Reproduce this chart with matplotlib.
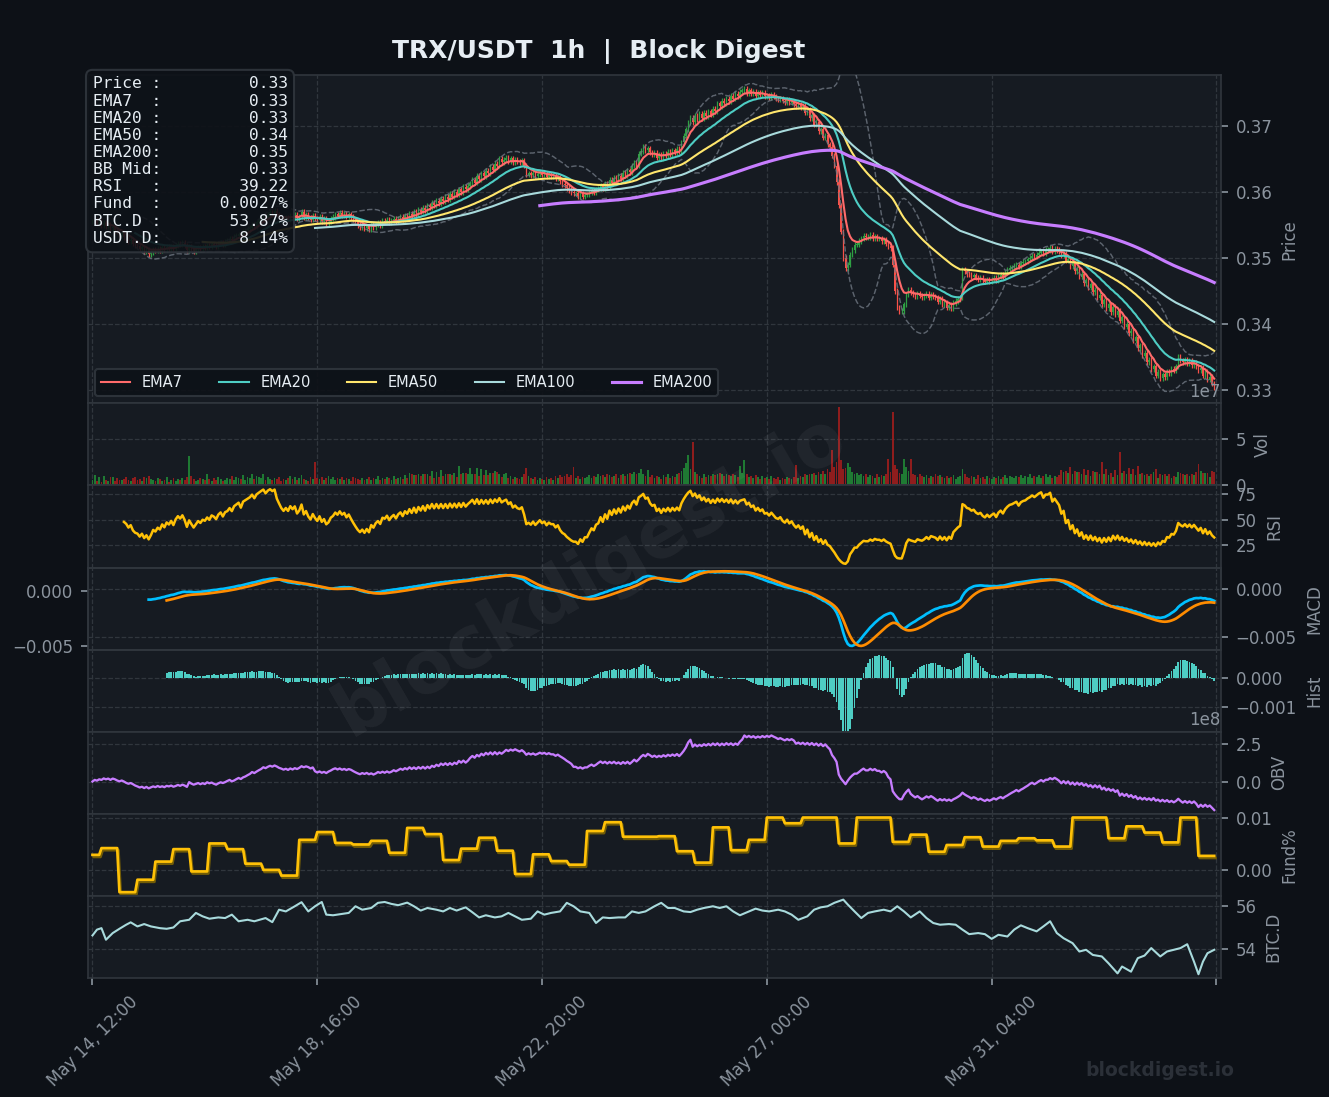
import numpy as np
import pandas as pd
import matplotlib
matplotlib.use('Agg')
import matplotlib.pyplot as plt
import matplotlib.ticker as mticker
import matplotlib.patheffects as pe

# ---- data ----
start_time = '2025-05-14 12:00'

# hourly closes, in units of 0.0001 USDT
close_e4 = [
    3555, 3558, 3552, 3556, 3550, 3553, 3548, 3551, 3545, 3547,
    3542, 3540, 3536, 3538, 3532, 3530, 3526, 3528, 3522, 3519,
    3518, 3514, 3516, 3510, 3512, 3506, 3509, 3513, 3511, 3514,
    3512, 3516, 3513, 3517, 3515, 3518, 3514, 3519, 3522, 3520,
    3523, 3519, 3512, 3518, 3514, 3510, 3513, 3516, 3514, 3517,
    3516, 3519, 3517, 3521, 3520, 3518, 3522, 3524, 3521, 3525,
    3526, 3529, 3527, 3532, 3534, 3536, 3533, 3540, 3542, 3544,
    3546, 3550, 3548, 3554, 3557, 3560, 3563, 3561, 3566, 3569,
    3568, 3571, 3566, 3563, 3560, 3558, 3561, 3559, 3564, 3562,
    3565, 3560, 3563, 3570, 3562, 3566, 3561, 3558, 3564, 3560,
    3557, 3562, 3556, 3559, 3553, 3555, 3560, 3562, 3566, 3564,
    3568, 3565, 3567, 3563, 3566, 3562, 3558, 3554, 3550, 3547,
    3549, 3545, 3548, 3544, 3550, 3547, 3551, 3553, 3550, 3556,
    3555, 3558, 3554, 3557, 3559, 3556, 3560, 3562, 3559, 3564,
    3562, 3567, 3564, 3570, 3566, 3573, 3570, 3576, 3572, 3580,
    3577, 3584, 3580, 3587, 3583, 3590, 3586, 3593, 3589, 3597,
    3593, 3600, 3596, 3604, 3600, 3608, 3604, 3609, 3613, 3618,
    3614, 3624, 3619, 3628, 3624, 3632, 3628, 3638, 3634, 3643,
    3640, 3650, 3645, 3649, 3652, 3647, 3651, 3645, 3649, 3646,
    3645, 3648, 3640, 3626, 3628, 3625, 3629, 3624, 3627, 3630,
    3626, 3628, 3623, 3626, 3624, 3624, 3620, 3622, 3616, 3612,
    3610, 3606, 3603, 3600, 3598, 3598, 3594, 3597, 3593, 3596,
    3596, 3599, 3602, 3600, 3604, 3605, 3610, 3606, 3613, 3609,
    3618, 3614, 3621, 3617, 3624, 3620, 3629, 3625, 3633, 3630,
    3640, 3645, 3641, 3658, 3662, 3668, 3663, 3666, 3660, 3657,
    3659, 3652, 3656, 3651, 3658, 3655, 3661, 3657, 3663, 3660,
    3665, 3662, 3675, 3685, 3695, 3705, 3712, 3706, 3715, 3710,
    3718, 3712, 3720, 3715, 3722, 3717, 3726, 3722, 3734, 3730,
    3738, 3734, 3741, 3737, 3746, 3741, 3749, 3745, 3752, 3754,
    3756, 3750, 3754, 3749, 3752, 3746, 3751, 3747, 3750, 3745,
    3746, 3743, 3747, 3744, 3741, 3740, 3742, 3738, 3736, 3739,
    3735, 3737, 3733, 3730, 3732, 3728, 3730, 3720, 3724, 3712,
    3716, 3702, 3706, 3692, 3695, 3682, 3686, 3672, 3668, 3655,
    3640, 3615, 3580, 3540, 3500, 3485, 3490, 3505, 3512, 3520,
    3520, 3526, 3530, 3534, 3532, 3532, 3535, 3530, 3533, 3530,
    3530, 3526, 3528, 3522, 3518, 3515, 3490, 3450, 3425, 3420,
    3420, 3430, 3445, 3452, 3448, 3445, 3442, 3446, 3443, 3441,
    3443, 3446, 3440, 3444, 3442, 3440, 3434, 3438, 3430, 3433,
    3425, 3429, 3424, 3432, 3435, 3438, 3440, 3482, 3480, 3476,
    3475, 3472, 3474, 3470, 3468, 3470, 3466, 3464, 3468, 3465,
    3468, 3470, 3466, 3472, 3475, 3472, 3478, 3482, 3485, 3486,
    3488, 3490, 3487, 3492, 3494, 3495, 3498, 3500, 3503, 3502,
    3505, 3508, 3510, 3507, 3512, 3512, 3515, 3510, 3514, 3512,
    3510, 3504, 3507, 3496, 3499, 3488, 3492, 3480, 3484, 3472,
    3476, 3462, 3466, 3455, 3460, 3448, 3452, 3440, 3444, 3430,
    3436, 3424, 3430, 3418, 3426, 3414, 3420, 3405, 3410, 3396,
    3400, 3386, 3390, 3375, 3380, 3364, 3368, 3352, 3357, 3342,
    3346, 3332, 3336, 3322, 3328, 3318, 3324, 3320, 3328, 3326,
    3332, 3330, 3336, 3350, 3345, 3342, 3346, 3340, 3344, 3338,
    3342, 3336, 3330, 3334, 3322, 3328, 3316, 3320, 3310, 3304,
]

# hourly volume, in millions of TRX
volume_m = [
    6, 11, 5, 9, 4, 10, 6, 5, 9, 9,
    5, 8, 6, 6, 7, 9, 6, 5, 8, 9,
    6, 7, 5, 9, 8, 10, 7, 6, 5, 8,
    7, 5, 6, 9, 4, 6, 8, 5, 7, 6,
    8, 6, 9, 32, 10, 7, 5, 6, 8, 7,
    6, 12, 7, 5, 8, 6, 9, 7, 5, 6,
    8, 7, 10, 6, 9, 8, 7, 11, 6, 9,
    8, 13, 7, 10, 9, 8, 12, 6, 9, 7,
    6, 8, 7, 9, 5, 7, 6, 8, 10, 7,
    9, 6, 8, 11, 7, 6, 5, 9, 7, 26,
    8, 7, 9, 6, 8, 10, 7, 9, 6, 8,
    7, 9, 6, 8, 7, 5, 9, 8, 7, 6,
    8, 6, 7, 9, 6, 8, 7, 10, 6, 8,
    7, 9, 8, 6, 10, 7, 8, 9, 7, 11,
    8, 14, 12, 11, 11, 13, 10, 12, 12, 13,
    10, 16, 8, 15, 9, 17, 10, 12, 12, 13,
    11, 14, 9, 21, 12, 14, 14, 13, 19, 13,
    12, 19, 10, 18, 11, 17, 11, 14, 14, 16,
    15, 13, 9, 12, 14, 8, 10, 7, 9, 8,
    7, 9, 12, 19, 10, 8, 7, 9, 6, 8,
    7, 6, 9, 7, 8, 6, 10, 8, 11, 9,
    10, 12, 9, 11, 20, 8, 10, 7, 9, 8,
    9, 11, 8, 10, 9, 12, 10, 11, 9, 12,
    11, 9, 10, 12, 8, 11, 13, 10, 12, 14,
    13, 15, 12, 14, 18, 12, 10, 17, 9, 11,
    8, 10, 9, 7, 11, 9, 12, 8, 10, 9,
    12, 14, 16, 19, 24, 33, 18, 47, 15, 12,
    10, 8, 12, 9, 11, 10, 13, 11, 12, 14,
    12, 10, 13, 11, 10, 12, 11, 9, 21, 14,
    28, 12, 9, 10, 8, 11, 9, 7, 10, 8,
    9, 7, 10, 8, 7, 9, 6, 8, 7, 9,
    8, 7, 9, 22, 8, 10, 9, 12, 11, 13,
    12, 14, 11, 15, 13, 16, 12, 18, 15, 39,
    20, 26, 85, 28, 18, 19, 24, 20, 15, 12,
    14, 11, 13, 10, 12, 9, 11, 10, 8, 12,
    9, 11, 10, 12, 29, 15, 80, 22, 18, 14,
    12, 29, 20, 16, 29, 13, 11, 9, 12, 10,
    9, 11, 8, 10, 9, 12, 10, 11, 9, 8,
    10, 8, 9, 11, 7, 9, 10, 18, 12, 9,
    8, 10, 9, 7, 11, 8, 9, 7, 10, 8,
    7, 9, 8, 10, 7, 9, 11, 8, 10, 9,
    8, 10, 9, 11, 8, 10, 9, 12, 8, 10,
    9, 11, 8, 10, 12, 9, 11, 8, 10, 9,
    11, 17, 15, 16, 14, 20, 13, 16, 15, 15,
    12, 18, 11, 17, 10, 16, 15, 15, 13, 26,
    12, 18, 11, 14, 9, 17, 11, 36, 14, 16,
    13, 19, 12, 18, 11, 21, 12, 14, 11, 13,
    10, 13, 15, 18, 8, 13, 11, 12, 10, 13,
    8, 10, 9, 15, 14, 12, 11, 12, 10, 12,
    11, 15, 23, 16, 14, 14, 14, 9, 16, 15,
]

# funding rate (%) per 8h period; first period is 4h long
funding_pct = [
    0.0029, 0.0042, -0.0043, -0.0019, 0.0016, 0.0040, -0.0003, 0.0051, 0.0040, 0.0012,
    0.0000, -0.0011, 0.0058, 0.0073, 0.0052, 0.0049, 0.0056, 0.0033, 0.0081, 0.0069,
    0.0019, 0.0041, 0.0062, 0.0037, -0.0008, 0.0030, 0.0017, 0.0010, 0.0075, 0.0092,
    0.0064, 0.0064, 0.0065, 0.0036, 0.0014, 0.0082, 0.0038, 0.0058, 0.0101, 0.0090,
    0.0101, 0.0101, 0.0051, 0.0101, 0.0101, 0.0054, 0.0068, 0.0035, 0.0048, 0.0063,
    0.0045, 0.0056, 0.0061, 0.0057, 0.0045, 0.0101, 0.0101, 0.0061, 0.0084, 0.0072,
    0.0053, 0.0101, 0.0027,
]

# BTC dominance (%), sampled at these hours
btcd_hour = [
    0, 2, 4, 6, 9, 12, 15, 17, 20, 23, 26, 30, 33, 36, 39, 43, 46, 49, 52, 56,
    59, 62, 65, 69, 72, 77, 80, 83, 86, 90, 93, 96, 99, 102, 104, 107, 111, 114, 117, 120,
    124, 127, 130, 133, 136, 140, 143, 146, 149, 153, 156, 159, 162, 166, 169, 172, 175, 179, 182, 185,
    188, 191, 195, 198, 201, 204, 208, 211, 214, 217, 221, 224, 227, 230, 234, 237, 240, 243, 246, 250,
    253, 256, 259, 263, 266, 269, 272, 276, 279, 282, 285, 288, 292, 295, 298, 301, 305, 308, 311, 314,
    318, 321, 324, 327, 330, 334, 336, 339, 342, 345, 348, 352, 355, 358, 361, 364, 368, 371, 374, 377,
    381, 384, 387, 390, 394, 397, 400, 403, 407, 410, 413, 416, 420, 423, 426, 429, 432, 436, 439, 442,
    445, 449, 452, 456, 458, 462, 465, 468, 471, 475, 478, 481, 484, 487, 490, 492, 494, 496, 499,
]
btcd_val = [
    54.61, 54.88, 54.95, 54.41, 54.72, 54.92, 55.11, 55.22, 55.03, 55.14, 55.03, 54.95, 54.92, 54.98, 55.27, 55.34, 55.66, 55.50, 55.39, 55.45,
    55.42, 55.58, 55.27, 55.34, 55.27, 55.42, 55.23, 55.81, 55.73, 55.97, 56.16, 55.73, 55.97, 56.17, 55.58, 55.55, 55.61, 55.66, 55.97, 55.81,
    55.89, 56.13, 56.17, 56.08, 56.02, 56.14, 55.97, 55.77, 55.89, 55.81, 55.73, 55.89, 55.77, 55.92, 55.69, 55.45, 55.55, 55.45, 55.50, 55.66,
    55.50, 55.34, 55.39, 55.73, 55.58, 55.66, 55.73, 56.13, 55.97, 55.73, 55.66, 55.19, 55.45, 55.42, 55.45, 55.45, 55.73, 55.66, 55.73, 55.97,
    56.13, 55.89, 55.89, 55.73, 55.70, 55.81, 55.89, 55.97, 55.89, 55.97, 55.73, 55.55, 55.73, 55.86, 55.77, 55.73, 55.81, 55.73, 55.58, 55.34,
    55.50, 55.81, 55.92, 55.97, 56.13, 56.28, 56.05, 55.73, 55.42, 55.66, 55.73, 55.81, 55.73, 55.97, 55.73, 55.45, 55.73, 55.42, 55.19, 55.11,
    55.14, 55.11, 54.88, 54.67, 54.72, 54.67, 54.45, 54.64, 54.56, 54.88, 55.08, 54.95, 54.80, 55.03, 55.27, 54.72, 54.48, 54.25, 53.86, 53.94,
    53.70, 53.63, 53.31, 52.84, 53.16, 52.92, 53.55, 53.67, 54.02, 53.63, 53.86, 53.94, 54.02, 54.20, 53.39, 52.80, 53.39, 53.78, 53.94,
]

info_labels = ['Price', 'EMA7', 'EMA20', 'EMA50', 'EMA200', 'BB Mid', 'RSI', 'Fund', 'BTC.D', 'USDT.D']
info_values = ['0.33', '0.33', '0.33', '0.34', '0.35', '0.33', '39.22', '0.0027%', '53.87%', '8.14%']

ema_spans = [7, 20, 50, 100, 200]
ema_colors = ['#ff6b6b', '#4ecdc4', '#ffe66d', '#a8dadc', '#c77dff']

# ---- derived series ----
close = pd.Series(np.array(close_e4) / 1e4)
n = len(close)
x = np.arange(n)
times = pd.date_range(start_time, periods=n, freq='h')
opens = close.shift(1).fillna(close[0])
vol = np.array(volume_m) * 1e6
up = close.values >= opens.values
body_lo = np.minimum(opens, close)
body_hi = np.maximum(opens, close)
wick = 0.0004
lows = body_lo - wick
highs = body_hi + wick

emas = [close.ewm(span=s, adjust=False, min_periods=s).mean() for s in ema_spans]
bb_mid = close.rolling(20).mean()
bb_std = close.rolling(20).std()
bb_up = bb_mid + 2 * bb_std
bb_dn = bb_mid - 2 * bb_std

delta = close.diff()
gain = delta.clip(lower=0).ewm(alpha=1/14, adjust=False, min_periods=14).mean()
loss = (-delta.clip(upper=0)).ewm(alpha=1/14, adjust=False, min_periods=14).mean()
rsi = 100 - 100 / (1 + gain / loss)

ema12 = close.ewm(span=12, adjust=False, min_periods=12).mean()
ema26 = close.ewm(span=26, adjust=False, min_periods=26).mean()
macd = ema12 - ema26
signal = macd.ewm(span=9, adjust=False, min_periods=9).mean()
hist = macd - signal

obv = np.cumsum(np.sign(delta.fillna(0).values) * vol)

fund_hours = [4] + [8] * (len(funding_pct) - 1)
fund_hours[-1] = n - sum(fund_hours[:-1])
fund = np.repeat(funding_pct, fund_hours)

# ---- style ----
BG = '#0d1117'
PANEL = '#161b22'
EDGE = '#30363d'
TXT = '#8b949e'
WHITE = '#e6edf3'
UP = '#2ea043'
DN = '#f85149'

fig = plt.figure(figsize=(1329 / 150, 1097 / 150), dpi=150, facecolor=BG)
gs = fig.add_gridspec(8, 1, height_ratios=[4, 1, 1, 1, 1, 1, 1, 1], hspace=0,
                      left=0.0662, right=0.9187, top=0.9316, bottom=0.1085)
ax_p = fig.add_subplot(gs[0])
axes = [ax_p] + [fig.add_subplot(gs[k], sharex=ax_p) for k in range(1, 8)]
ax_p, ax_v, ax_r, ax_m, ax_h, ax_o, ax_f, ax_b = axes
ax_sig = ax_m.twinx()

labels = ['Price', 'Vol', 'RSI', 'MACD', 'Hist', 'OBV', 'Fund%', 'BTC.D']
for ax, lab in zip(axes, labels):
    ax.set_facecolor(PANEL)
    for sp in ax.spines.values():
        sp.set_color(EDGE)
    ax.yaxis.tick_right()
    ax.yaxis.set_label_position('right')
    ax.set_ylabel(lab, color=TXT, fontsize=8)
    ax.tick_params(colors=TXT, labelsize=8)
    ax.yaxis.get_offset_text().set_color(TXT)
    ax.yaxis.get_offset_text().set_fontsize(8)
    ax.grid(True, color=EDGE, ls='--', lw=0.6)
    ax.set_axisbelow(True)
    if ax is not ax_b:
        ax.tick_params(axis='x', labelbottom=False)

ax_sig.yaxis.tick_left()
ax_sig.tick_params(colors=TXT, labelsize=8)
for sp in ax_sig.spines.values():
    sp.set_color(EDGE)

# price panel
ax_p.vlines(x, lows, highs, colors=np.where(up, UP, DN), lw=0.6, zorder=2)
ax_p.bar(x, np.maximum(body_hi - body_lo, 0.00005), bottom=body_lo, width=0.6,
         color=np.where(up, UP, DN), zorder=3)
ax_p.plot(x, bb_up, color='#6e7681', ls='--', lw=0.7, alpha=0.8, zorder=3)
ax_p.plot(x, bb_dn, color='#6e7681', ls='--', lw=0.7, alpha=0.8, zorder=3)
for s, e, c in zip(ema_spans, emas, ema_colors):
    ax_p.plot(x, e, color=c, lw=1.5 if s == 200 else 1.0, label=f'EMA{s}', zorder=4)
ax_p.set_ylim(0.328, 0.3777)
ax_p.yaxis.set_major_locator(mticker.MultipleLocator(0.01))
ax_p.legend(loc='lower left', ncol=5, fontsize=7, facecolor=BG, edgecolor=EDGE,
            framealpha=0.9, labelcolor=WHITE, columnspacing=2.5)
info = '\n'.join(f'{l:<6}:{v:>13}' for l, v in zip(info_labels, info_values))
ax_p.text(0.004, 0.996, info, transform=ax_p.transAxes, va='top', ha='left',
          family='DejaVu Sans Mono', fontsize=7.8, color=WHITE, linespacing=1.18, zorder=10,
          bbox=dict(boxstyle='round,pad=0.4', facecolor=BG, edgecolor=EDGE, alpha=0.9))

# volume
ax_v.bar(x, vol, width=0.8, color=np.where(up, '#1f7a33', '#8f1d1d'))
ax_v.yaxis.set_major_locator(mticker.MultipleLocator(5e7))

# rsi
ax_r.plot(x, rsi, color='#ffc107', lw=1.2)
ax_r.yaxis.set_major_locator(mticker.MultipleLocator(25))

# macd
ax_m.plot(x, macd, color='#00bfff', lw=1.3)
ax_sig.plot(x, signal, color='#ff8c00', lw=1.3)
ax_m.yaxis.set_major_locator(mticker.MultipleLocator(0.005))
ax_sig.yaxis.set_major_locator(mticker.MultipleLocator(0.005))

# histogram
ax_h.bar(x, hist, width=0.8, color='#4ecdc4')
ax_h.set_ylim(-0.00186, 0.00097)
ax_h.yaxis.set_major_locator(mticker.MultipleLocator(0.001))

# obv
ax_o.plot(x, obv, color='#c77dff', lw=1.1)
ax_o.yaxis.set_major_locator(mticker.MultipleLocator(2.5e8))

# funding
ax_f.plot(x, fund, color='#ffc107', lw=1.3,
          path_effects=[pe.SimpleLineShadow(offset=(0.6, -1.0), shadow_color='#8a6d00', alpha=0.8), pe.Normal()])
ax_f.yaxis.set_major_locator(mticker.MultipleLocator(0.01))

# btc dominance
ax_b.plot(btcd_hour, btcd_val, color='#a8dadc', lw=1.0)
ax_b.yaxis.set_major_locator(mticker.MultipleLocator(2))

ax_b.set_xlim(-2, n + 2)
ax_b.xaxis.set_major_locator(mticker.MultipleLocator(100))


def fmt_time(v, pos):
    i = int(round(v))
    if 0 <= i < n:
        return times[i].strftime('%b %d, %H:%M')
    return ''


ax_b.xaxis.set_major_formatter(mticker.FuncFormatter(fmt_time))
plt.setp(ax_b.get_xticklabels(), rotation=45)

fig.text(0.4507, 1 - 52 / 1097, 'TRX/USDT  1h  |  Block Digest', ha='center', va='center',
         fontsize=12, fontweight='bold', color=WHITE)
fig.text(0.444, 0.476, 'blockdigest.io', rotation=30, fontsize=35, fontweight='bold',
         color='white', alpha=0.05, ha='center', va='center')
fig.text(0.873, 0.0246, 'blockdigest.io', fontsize=9, fontweight='bold', color='#2b3038',
         ha='center', va='center')

fig.savefig('out.png', dpi=150, facecolor=BG)
